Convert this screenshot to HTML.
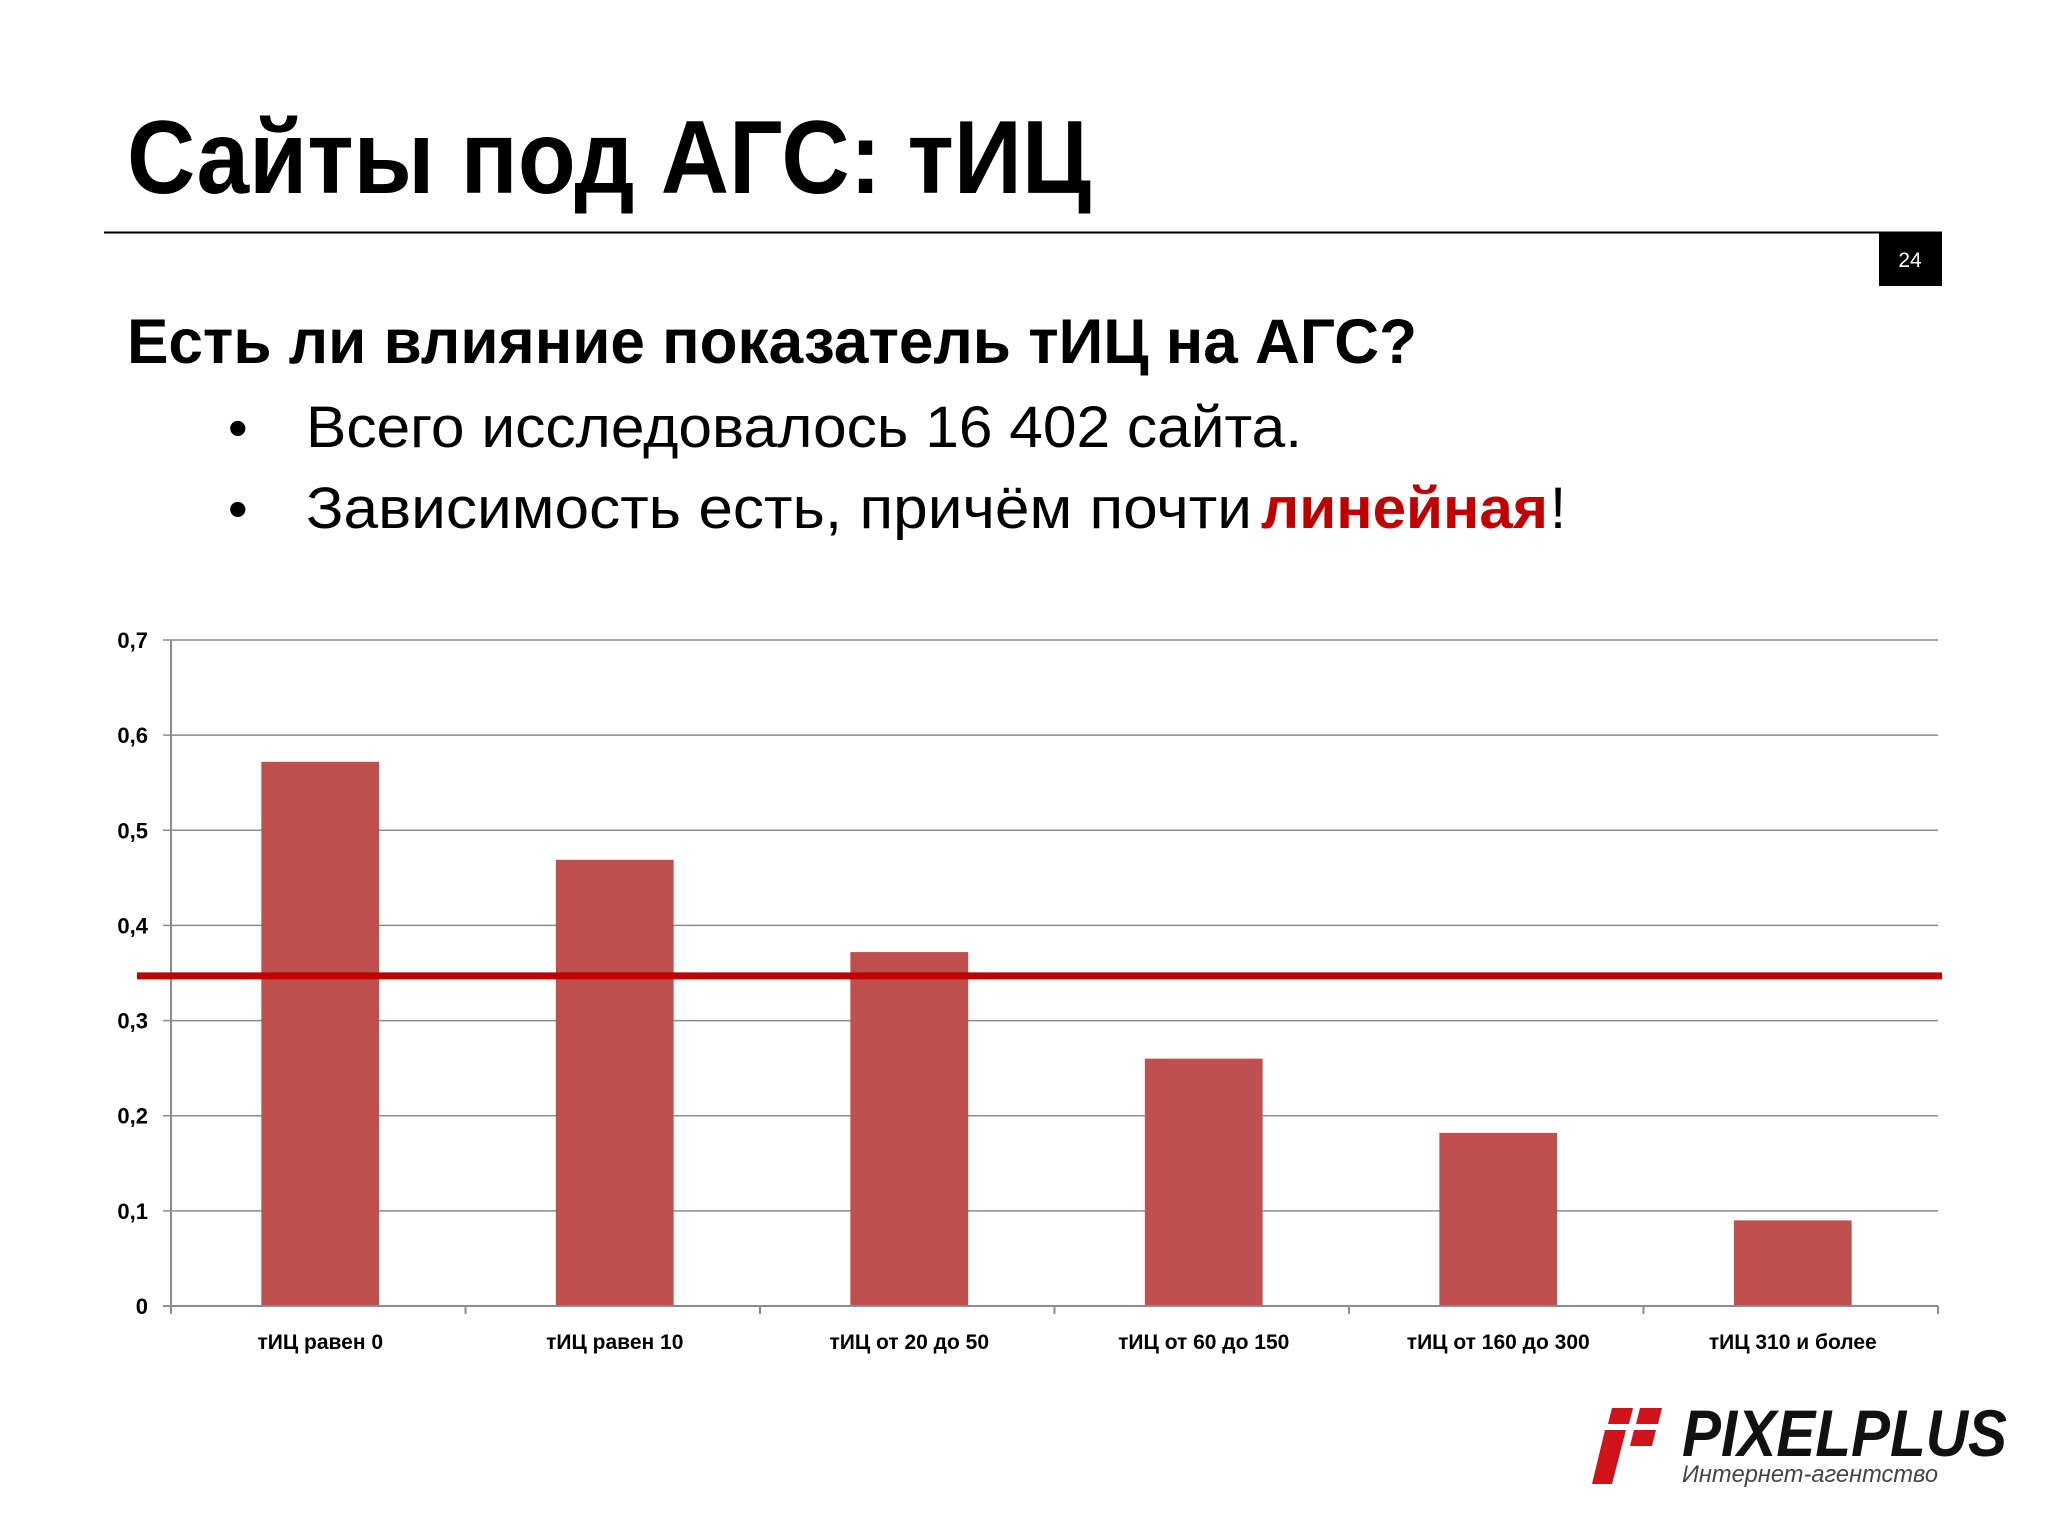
<!DOCTYPE html>
<html><head><meta charset="utf-8"><style>
html,body{margin:0;padding:0;background:#fff;}
svg{display:block;font-family:"Liberation Sans",sans-serif;}
</style></head><body>
<svg id="s" width="2048" height="1536" viewBox="0 0 2048 1536" xmlns="http://www.w3.org/2000/svg">
<text x="127" y="193" font-size="104" font-weight="bold" textLength="964" lengthAdjust="spacingAndGlyphs">Сайты под АГС: тИЦ</text>
<line x1="104" y1="232.5" x2="1942" y2="232.5" stroke="#000" stroke-width="2"/>
<rect x="1879" y="232" width="63" height="54" fill="#000"/>
<text x="1910" y="267" font-size="21" fill="#fff" text-anchor="middle">24</text>
<text x="127" y="363" font-size="63" font-weight="bold" textLength="1290" lengthAdjust="spacingAndGlyphs">Есть ли влияние показатель тИЦ на АГС?</text>
<text x="228" y="447" font-size="56">•</text>
<text x="306" y="447" font-size="58" textLength="996" lengthAdjust="spacingAndGlyphs">Всего исследовалось 16 402 сайта.</text>
<text x="228" y="528" font-size="56">•</text>
<text y="528" font-size="58"><tspan x="306" textLength="946" lengthAdjust="spacingAndGlyphs">Зависимость есть, причём почти</tspan><tspan x="1261" font-weight="bold" fill="#C00000" textLength="287" lengthAdjust="spacingAndGlyphs">линейная</tspan><tspan x="1550">!</tspan></text>
<g id="chart"></g>
<g>
<polygon points="1612,1408 1633,1408 1629,1424 1608,1424" fill="#d0121b"/>
<polygon points="1640,1408 1662,1408 1658,1424 1636,1424" fill="#d0121b"/>
<polygon points="1605,1430 1626,1430 1612,1484 1592,1484" fill="#d0121b"/>
<polygon points="1634,1430 1656,1430 1652,1446 1630,1446" fill="#d0121b"/>
<text x="1682" y="1456" font-size="66" font-weight="bold" font-style="italic" textLength="325" lengthAdjust="spacingAndGlyphs" fill="#111">PIXELPLUS</text>
<text x="1682" y="1482" font-size="24" font-style="italic" fill="#444" textLength="256" lengthAdjust="spacingAndGlyphs">Интернет-агентство</text>
</g>
</svg>
<script>
const categories=["тИЦ равен  0","тИЦ равен  10","тИЦ от 20 до 50","тИЦ от 60 до 150","тИЦ от 160 до 300","тИЦ 310 и более"];
const values=[0.572,0.469,0.372,0.26,0.182,0.09];
const ticks=[0,0.1,0.2,0.3,0.4,0.5,0.6,0.7];
const tickLabels=["0","0,1","0,2","0,3","0,4","0,5","0,6","0,7"];
const threshold=[0.347];
const NS="http://www.w3.org/2000/svg";
const g=document.getElementById('chart');
const X0=171,X1=1938,Y0=1306,Y1=640,YMAX=0.7;
const y=v=>Y0-(v/YMAX)*(Y0-Y1);
const band=(X1-X0)/categories.length;
const x=i=>X0+band*i;
function mk(t,a){const e=document.createElementNS(NS,t);for(const k in a)e.setAttribute(k,a[k]);g.appendChild(e);return e;}
ticks.forEach((t,i)=>{
  if(t>0){const l=mk('line',{x1:X0-8,x2:X1,y1:y(t),y2:y(t),stroke:'#8c8c8c','stroke-width':1.5});
  
  }
  const tx=mk('text',{x:148,y:y(t)+8,'font-size':22,'font-weight':'bold','text-anchor':'end'});
  tx.textContent=tickLabels[i];
  
  
});
values.forEach((v,i)=>{
  const bw=band*0.4;
  const r=mk('rect',{x:x(i)+band/2-bw/2+2,y:y(v),width:bw,height:Y0-y(v),fill:'#C0504D'});
  
  
  const tx=mk('text',{x:x(i)+band/2+2,y:1349,'font-size':21,'font-weight':'bold','text-anchor':'middle'});
  tx.textContent=categories[i];
  
  
});
const ya=mk('line',{x1:X0,x2:X0,y1:Y1,y2:Y0+8,stroke:'#8c8c8c','stroke-width':2});


const xa=mk('line',{x1:X0-8,x2:X1,y1:Y0,y2:Y0,stroke:'#8c8c8c','stroke-width':2});


for(let i=0;i<=categories.length;i++){
  const tk=mk('line',{x1:x(i),x2:x(i),y1:Y0,y2:Y0+8,stroke:'#8c8c8c','stroke-width':2});
  
  
}
const ln=mk('line',{x1:137,x2:1942,y1:y(threshold[0]),y2:y(threshold[0]),stroke:'#C00000','stroke-width':7});


</script>
</body></html>
